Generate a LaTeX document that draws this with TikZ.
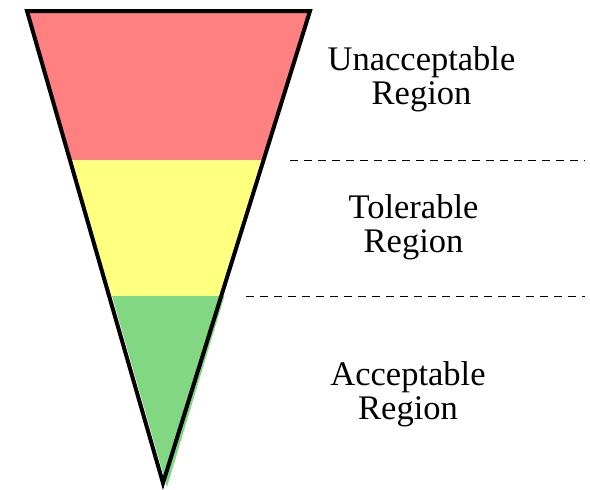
\documentclass[tikz,border=0pt]{standalone}
\usepackage{fontspec}
\setmainfont{Liberation Serif}
\definecolor{bandred}{RGB}{255,128,128}
\definecolor{bandyellow}{RGB}{255,255,128}
\definecolor{bandgreen}{RGB}{130,216,130}
\begin{document}
\begin{tikzpicture}[x=1pt,y=-1pt,
  outline/.style={draw=black,line width=4pt,line join=miter},
  divider/.style={draw=black,line width=0.9pt,dash pattern=on 8pt off 6pt},
  label/.style={align=center,inner sep=0pt,font=\fontsize{34.5pt}{34pt}\selectfont}]
\useasboundingbox (0,0) rectangle (590,490);
\coordinate (tl) at (27,11);
\coordinate (tr) at (310,11);
\coordinate (bt) at (163,483);
\begin{scope}
  \clip (tl) -- (tr) -- (bt) -- cycle;
  \fill[bandred] (0,0) rectangle (330,160);
  \fill[bandyellow] (0,160) rectangle (330,296);
\end{scope}
\fill[bandgreen] (112,296) -- (224.5,296) -- (167,487) -- cycle;
\draw[outline] (tl) -- (tr) -- (bt) -- cycle;
\coordinate (d1a) at (290,160);
\coordinate (d1b) at (585,160);
\coordinate (d2a) at (246,296);
\coordinate (d2b) at (585,296);
\draw[divider] (d1a) -- (d1b);
\draw[divider] (d2a) -- (d2b);
\node[label] (unacc) at (421.5,79) {Unacceptable\\Region};
\node[label] (toler) at (413.5,227) {Tolerable\\Region};
\node[label] (acc) at (408,394) {Acceptable\\Region};
\end{tikzpicture}
\end{document}
